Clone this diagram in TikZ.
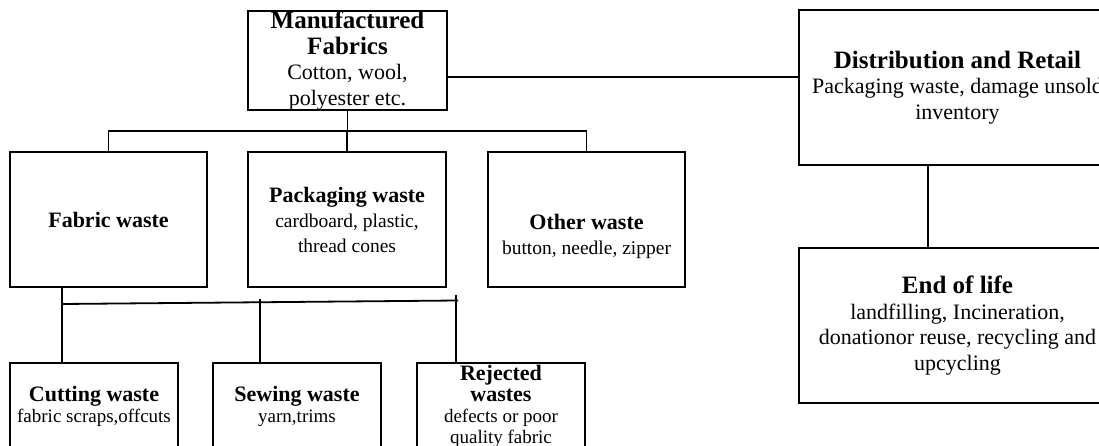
\documentclass[tikz,border=0pt]{standalone}
\usepackage{fontspec}
\setmainfont{Liberation Serif}
\newcommand\topB{\fontsize{25}{25.5}\selectfont\bfseries}
\newcommand\topR{\fontsize{22}{25.5}\selectfont}
\newcommand\midB{\fontsize{22}{25}\selectfont\bfseries}
\newcommand\midR{\fontsize{19.5}{25}\selectfont}
\newcommand\lowB{\fontsize{22}{21}\selectfont\bfseries}
\newcommand\lowR{\fontsize{19}{21}\selectfont}
\begin{document}
\begin{tikzpicture}[x=1pt,y=-1pt,
  box/.style={draw, line width=1.9pt, inner sep=0pt, align=center},
  link/.style={line width=1.8pt},
  txt/.style={inner sep=0pt, align=center}]
\useasboundingbox (0,0) rectangle (1099,446);
\clip (0,0) rectangle (1099,446);
% top level
\node[box, minimum width=199pt, minimum height=99pt, font=\topR] (mf) at (347.5,60.5)
  {{\topB Manufactured}\\{\topB Fabrics}\\Cotton, wool,\\polyester etc.};
\node[box, minimum width=317pt, minimum height=155pt, font=\topR] (dist) at (957.5,87.5)
  {{\topB Distribution and Retail}\\Packaging waste, damage unsold\\inventory};
\node[box, minimum width=317pt, minimum height=155pt, font=\topR] (eol) at (957.5,325.5)
  {{\topB End of life}\\landfilling, Incineration,\\donationor reuse, recycling and\\upcycling};
% middle level
\node[box, minimum width=197pt, minimum height=135pt, font=\midR] (fab) at (108.5,219.5)
  {{\midB Fabric waste}};
\node[box, minimum width=198pt, minimum height=135pt, font=\midR] (pack) at (347,219.5)
  {{\midB Packaging waste}\\cardboard, plastic,\\thread cones};
\node[box, minimum width=197pt, minimum height=135pt] (other) at (586.5,219.5) {};
\node[txt, font=\midR] (othertext) at (586.5,236)
  {{\midB Other waste}\\button, needle, zipper};
% bottom level
\node[box, minimum width=168pt, minimum height=86pt, font=\lowR] (cut) at (94,406)
  {{\lowB Cutting waste}\\fabric scraps,offcuts};
\node[box, minimum width=168pt, minimum height=86pt, font=\lowR] (sew) at (297,406)
  {{\lowB Sewing waste}\\yarn,trims};
\node[box, minimum width=168pt, minimum height=86pt, font=\lowR] (rej) at (501,406)
  {{\lowB Rejected}\\{\lowB wastes}\\defects or poor\\quality fabric};
% connectors
\coordinate (j1) at ([yshift=-16.5pt]mf.east);
\draw[link] (j1) -- (j1 -| dist.west);
\draw[link] ([xshift=-29.5pt]dist.south) -- ([xshift=-29.5pt]eol.north);
\coordinate (bus1) at (0,131);
\draw[link] (mf.south) -- (mf.south |- bus1);
\draw[link] (fab.north) -- (fab.north |- bus1) -- (other.north |- bus1) -- (other.north);
\draw[link] (pack.north) -- (pack.north |- bus1);
\coordinate (lb) at (62,304);
\coordinate (le) at (458,300.5);
\draw[link] (lb |- fab.south) -- (lb |- cut.north);
\draw[link] (lb) -- (le);
\coordinate (s1) at (260,299);
\draw[link] (s1) -- (s1 |- sew.north);
\coordinate (r1) at (456,295);
\draw[link] (r1) -- (r1 |- rej.north);
\end{tikzpicture}
\end{document}
